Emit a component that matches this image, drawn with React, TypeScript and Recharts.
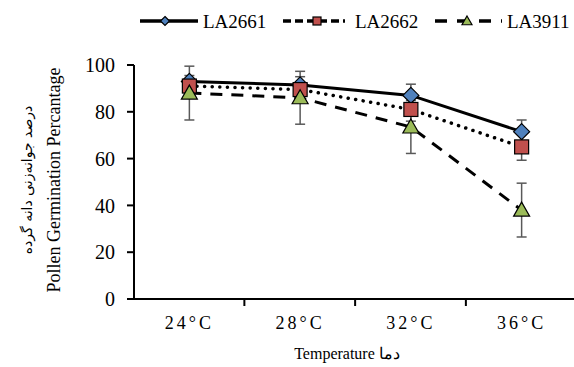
import { LineChart, Line, XAxis, YAxis, ErrorBar, Label } from "recharts";

const temps = ["24°C", "28°C", "32°C", "36°C"];
const la2661 = [93, 91.5, 87, 71.5];
const la2661Err = [2.5, 3.5, 4.8, 5];
const la2662 = [91, 89.5, 81, 65];
const la2662Err = [3, 3, 5, 5.7];
const la3911 = [88, 86, 73.5, 38];
const la3911Err = [11.5, 11.3, 11.3, 11.5];
const yTicks = [0, 20, 40, 60, 80, 100];

const data = temps.map((t, i) => ({
  temp: t,
  a: la2661[i],
  aErr: la2661Err[i],
  b: la2662[i],
  bErr: la2662Err[i],
  c: la3911[i],
  cErr: la3911Err[i],
}));

const serif = "Liberation Serif";
const halfBand = 55;

const Diamond = ({ cx, cy, r = 8 }: any) =>
  cx == null ? null : (
    <path
      d={`M${cx},${cy - r} L${cx + r},${cy} L${cx},${cy + r} L${cx - r},${cy} Z`}
      fill="#4F81BD"
      stroke="#000"
      strokeWidth={1.2}
    />
  );

const Square = ({ cx, cy, r = 7 }: any) =>
  cx == null ? null : (
    <rect x={cx - r} y={cy - r} width={r * 2} height={r * 2} fill="#C0504D" stroke="#000" strokeWidth={1.2} />
  );

const Triangle = ({ cx, cy, r = 8 }: any) =>
  cx == null ? null : (
    <path
      d={`M${cx},${cy - r} L${cx + r},${cy + r * 0.75} L${cx - r},${cy + r * 0.75} Z`}
      fill="#9BBB59"
      stroke="#000"
      strokeWidth={1.2}
    />
  );

const XTick = ({ x, y, payload, index }: any) => (
  <g>
    {index < 3 && <line x1={x + halfBand} y1={y} x2={x + halfBand} y2={y + 7} stroke="#000" strokeWidth={2} />}
    <text x={x} y={y + 30} textAnchor="middle" fontFamily={serif} fontSize={18} letterSpacing={3} fill="#000">
      {payload.value}
    </text>
  </g>
);

const YTitle = () => (
  <g>
    <text transform="translate(60,180) rotate(-90)" textAnchor="middle" fontFamily={serif} fontSize={18} fill="#000">
      Pollen Germination Percantage
    </text>
    <text
      transform="translate(32,180) rotate(-90)"
      textAnchor="middle"
      fontFamily="DejaVu Sans"
      fontSize={14}
      fill="#000"
    >
      درصد جوانه‌زنی دانه گرده
    </text>
  </g>
);

const Legend = () => (
  <svg width={574} height={40} style={{ position: "absolute", left: 0, top: 0 }}>
    <line x1={140} y1={21} x2={198} y2={21} stroke="#000" strokeWidth={3.5} />
    <Diamond cx={165} cy={21} r={4.5} />
    <text x={203} y={28} fontFamily={serif} fontSize={19} fill="#000">LA2661</text>
    <line x1={283} y1={21} x2={345} y2={21} stroke="#000" strokeWidth={3.5} strokeDasharray="8 4" />
    <Square cx={317} cy={21} r={4} />
    <text x={355} y={28} fontFamily={serif} fontSize={19} fill="#000">LA2662</text>
    <line x1={435} y1={21} x2={502} y2={21} stroke="#000" strokeWidth={3.5} strokeDasharray="12 10" />
    <Triangle cx={467} cy={21} r={5} />
    <text x={507} y={28} fontFamily={serif} fontSize={19} fill="#000">LA3911</text>
  </svg>
);

export default function App() {
  return (
    <div style={{ position: "absolute", left: 0, top: 0, width: 574, height: 367, background: "#fff" }}>
      <LineChart width={574} height={367} data={data} margin={{ top: 65, right: -3, bottom: 0, left: 0 }}>
        <XAxis
          dataKey="temp"
          scale="band"
          height={68}
          axisLine={{ stroke: "#000", strokeWidth: 2 }}
          tickLine={false}
          tickSize={0}
          tickMargin={0}
          tick={<XTick />}
          interval={0}
        >
          <Label
            content={() => (
              <text x={347} y={359} textAnchor="middle" fontFamily={serif} fontSize={16} fill="#000">
                Temperature دما
              </text>
            )}
          />
        </XAxis>
        <YAxis
          width={134}
          domain={[0, 100]}
          ticks={yTicks}
          axisLine={{ stroke: "#000", strokeWidth: 2 }}
          tickLine={{ stroke: "#000", strokeWidth: 2 }}
          tickSize={7}
          tickMargin={12}
          tick={{ fill: "#000", fontFamily: serif, fontSize: 20 }}
        >
          <Label content={() => <YTitle />} />
        </YAxis>
        <Line
          dataKey="a"
          stroke="#000"
          strokeWidth={3}
          dot={(p: any) => <Diamond key={`a${p.index}`} cx={p.cx} cy={p.cy} />}
          isAnimationActive={false}
        >
          <ErrorBar dataKey="aErr" direction="y" width={5} stroke="#595959" strokeWidth={1.5} />
        </Line>
        <Line
          dataKey="b"
          stroke="#000"
          strokeWidth={3.5}
          strokeDasharray="0.1 7.5"
          strokeLinecap="round"
          dot={(p: any) => <Square key={`b${p.index}`} cx={p.cx} cy={p.cy} />}
          isAnimationActive={false}
        >
          <ErrorBar dataKey="bErr" direction="y" width={5} stroke="#595959" strokeWidth={1.5} />
        </Line>
        <Line
          dataKey="c"
          stroke="#000"
          strokeWidth={3}
          strokeDasharray="12 9"
          dot={(p: any) => <Triangle key={`c${p.index}`} cx={p.cx} cy={p.cy} />}
          isAnimationActive={false}
        >
          <ErrorBar dataKey="cErr" direction="y" width={5} stroke="#595959" strokeWidth={1.5} />
        </Line>
      </LineChart>
      <Legend />
    </div>
  );
}
